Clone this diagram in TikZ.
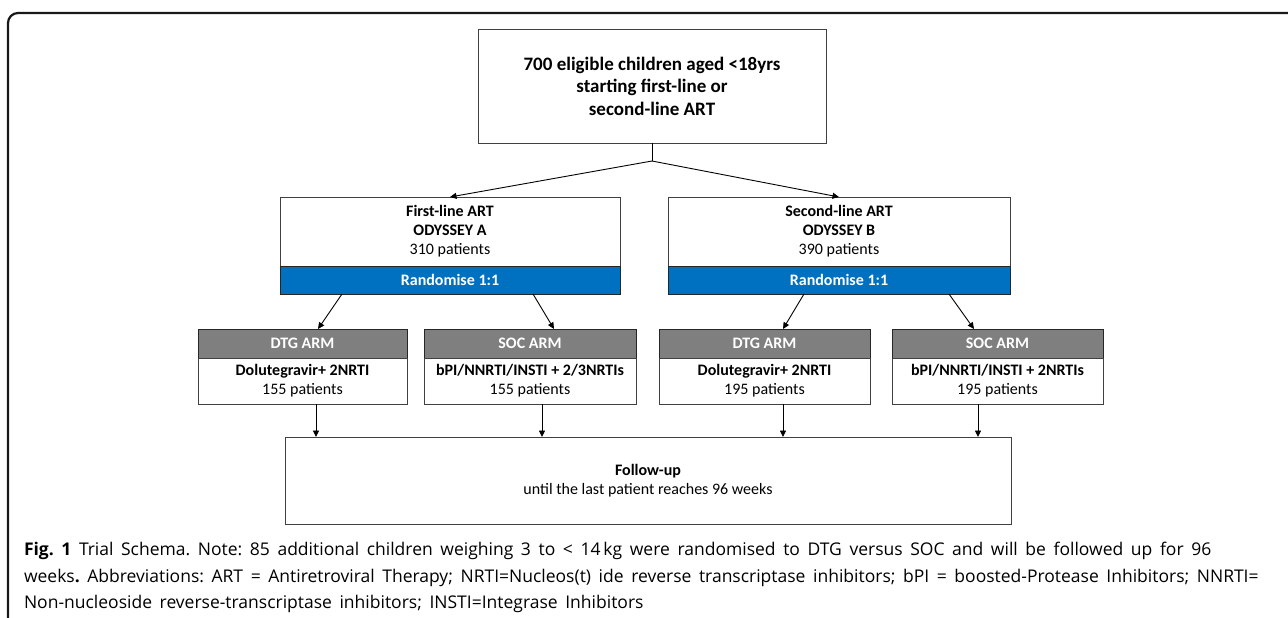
\documentclass[tikz,border=0pt]{standalone}
\usepackage{fontspec}
\setmainfont{Carlito}
\newfontfamily\capfont{Open Sans}
\usetikzlibrary{arrows.meta,calc}
\definecolor{myblue}{HTML}{0070C0}
\definecolor{mygray}{HTML}{7F7F7F}
\definecolor{edgegray}{HTML}{404040}
\newcommand{\capsp}{\frenchspacing\spaceskip=7.6bp\relax}
\begin{document}
\begin{tikzpicture}[x=1bp,y=-1bp,
  every node/.style={inner sep=0pt, outer sep=0pt},
  box/.style={draw=edgegray, line width=0.9bp, fill=white, align=center},
  blueband/.style={draw=black!85, line width=0.9bp, fill=myblue, text=white, align=center,
    font=\bfseries\fontsize{16bp}{19bp}\selectfont},
  grayhead/.style={draw=black!85, line width=0.9bp, fill=mygray, text=white, align=center,
    font=\bfseries\fontsize{16bp}{19bp}\selectfont},
  midtext/.style={font=\fontsize{16bp}{19bp}\selectfont},
  conn/.style={line width=0.9bp, -{Triangle[length=6.5bp,width=6bp]}},
  capline/.style={anchor=base west, font=\capfont\fontsize{17.5bp}{27bp}\selectfont}
]
\useasboundingbox (0,0) rectangle (1288,618);
\fill[white] (0,0) rectangle (1288,618);
% outer frame
\draw[line width=2.2bp, black!90, rounded corners=10bp] (8,625) -- (8,13) -- (1295,13);

% top box
\node[box, minimum width=348bp, minimum height=114bp,
  font=\bfseries\fontsize{19bp}{22.5bp}\selectfont] (top) at (652,86)
  {700 eligible children aged <18yrs\\starting first-line or\\second-line ART};

% level 2
\node[box, midtext, minimum width=340bp, minimum height=69bp] (fa) at (450,231.5)
  {\textbf{First-line ART}\\\textbf{ODYSSEY A}\\310 patients};
\node[blueband, minimum width=340bp, minimum height=28bp] (ra) at (450,280) {Randomise 1:1};
\node[box, midtext, minimum width=342bp, minimum height=69bp] (fb) at (839,231.5)
  {\textbf{Second-line ART}\\\textbf{ODYSSEY B}\\390 patients};
\node[blueband, minimum width=342bp, minimum height=28bp] (rb) at (839,280) {Randomise 1:1};

% arms
\node[grayhead, minimum width=209bp, minimum height=29bp] (dah) at (302.5,343.5) {DTG ARM};
\node[box, midtext, minimum width=209bp, minimum height=46bp] (dab) at (302.5,381)
  {\textbf{Dolutegravir+ 2NRTI}\\155 patients};
\node[grayhead, minimum width=212bp, minimum height=29bp] (sah) at (530,343.5) {SOC ARM};
\node[box, midtext, minimum width=212bp, minimum height=46bp] (sab) at (530,381)
  {\textbf{bPI/NNRTI/INSTI + 2/3NRTIs}\\155 patients};
\node[grayhead, minimum width=211bp, minimum height=29bp] (dbh) at (764.5,343.5) {DTG ARM};
\node[box, midtext, minimum width=211bp, minimum height=46bp] (dbb) at (764.5,381)
  {\textbf{Dolutegravir+ 2NRTI}\\195 patients};
\node[grayhead, minimum width=211bp, minimum height=29bp] (sbh) at (997.5,343.5) {SOC ARM};
\node[box, midtext, minimum width=211bp, minimum height=46bp] (sbb) at (997.5,381)
  {\textbf{bPI/NNRTI/INSTI + 2NRTIs}\\195 patients};

% follow-up
\node[box, midtext, minimum width=726bp, minimum height=87bp] (fu) at (648,480.5)
  {\textbf{Follow-up}\\until the last patient reaches 96 weeks};

% connectors
\coordinate (j) at ($(top.south)+(0,18)$);
\draw[line width=0.9bp] (top.south) -- (j);
\draw[conn] (j) -- (fa.north);
\draw[conn] (j) -- (fb.north);

\draw[conn] ([xshift=-108bp]ra.south) -- ([xshift=15.5bp]dah.north);
\draw[conn] ([xshift=83bp]ra.south) -- ([xshift=24bp]sah.north);
\draw[conn] ([xshift=-35bp]rb.south) -- ([xshift=18.5bp]dbh.north);
\draw[conn] ([xshift=110bp]rb.south) -- ([xshift=-23.5bp]sbh.north);

\draw[conn] ([xshift=13.5bp]dab.south) -- ([xshift=13.5bp]dab.south |- fu.north);
\draw[conn] ([xshift=12bp]sab.south) -- ([xshift=12bp]sab.south |- fu.north);
\draw[conn] ([xshift=18.5bp]dbb.south) -- ([xshift=18.5bp]dbb.south |- fu.north);
\draw[conn] ([xshift=-19.5bp]sbb.south) -- ([xshift=-19.5bp]sbb.south |- fu.north);

% caption
\node[capline] (cap1) at (24,555)
  {\capsp\textbf{Fig. 1} Trial Schema. Note: 85 additional children weighing 3 to < 14\,kg were randomised to DTG versus SOC and will be followed up for 96};
\node[capline] (cap2) at (24,582)
  {\capsp weeks\textbf{.} Abbreviations: ART = Antiretroviral Therapy; NRTI=Nucleos(t) ide reverse transcriptase inhibitors; bPI = boosted-Protease Inhibitors; NNRTI=};
\node[capline] (cap3) at (24,608)
  {\capsp Non-nucleoside reverse-transcriptase inhibitors; INSTI=Integrase Inhibitors};
\end{tikzpicture}
\end{document}
